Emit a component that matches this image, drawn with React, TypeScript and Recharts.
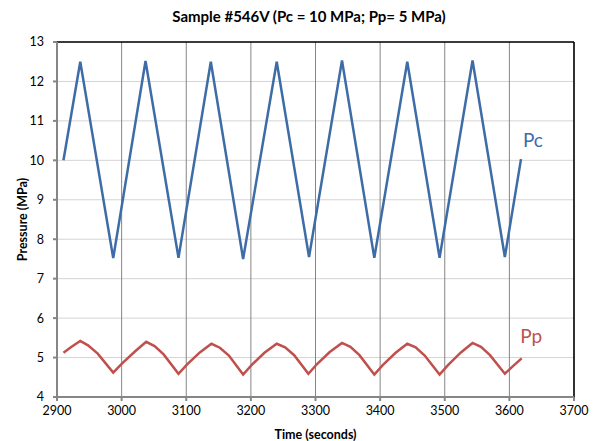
import * as React from 'react';
import {
  LineChart,
  Line,
  XAxis,
  YAxis,
  CartesianGrid,
  ReferenceLine,
  ReferenceDot,
} from 'recharts';

const pcTime = [2910, 2936, 2987, 3037, 3088, 3138, 3188, 3240, 3290, 3341, 3391, 3442, 3492, 3543, 3593, 3618];
const pcValue = [10.0, 12.5, 7.52, 12.52, 7.53, 12.5, 7.5, 12.5, 7.55, 12.53, 7.53, 12.5, 7.53, 12.53, 7.55, 10.03];

const ppTime = [
  2910, 2922, 2936, 2948, 2963, 2987, 3000, 3021, 3038, 3051, 3065, 3088, 3101, 3121, 3139, 3152, 3166,
  3188, 3201, 3221, 3240, 3253, 3267, 3289, 3302, 3322, 3341, 3354, 3368, 3391, 3404, 3424, 3442, 3455,
  3469, 3492, 3505, 3525, 3543, 3556, 3570, 3593, 3606, 3619,
];
const ppValue = [
  5.12, 5.27, 5.42, 5.31, 5.1, 4.62, 4.84, 5.16, 5.4, 5.29, 5.08, 4.59, 4.82, 5.13, 5.35, 5.25, 5.05,
  4.57, 4.81, 5.12, 5.35, 5.26, 5.06, 4.59, 4.83, 5.14, 5.37, 5.27, 5.06, 4.57, 4.81, 5.12, 5.35, 5.26,
  5.05, 4.57, 4.81, 5.13, 5.37, 5.27, 5.06, 4.59, 4.79, 4.98,
];

const xTicks = [2900, 3000, 3100, 3200, 3300, 3400, 3500, 3600, 3700];
const yTicks = [4, 5, 6, 7, 8, 9, 10, 11, 12, 13];

const title = 'Sample #546V (Pc = 10 MPa; Pp= 5 MPa)';

const pcData = pcTime.map((t, i) => ({ t, v: pcValue[i] }));
const ppData = ppTime.map((t, i) => ({ t, v: ppValue[i] }));

const FONT = 'Lato, "Open Sans", sans-serif';
const BLUE = '#3d6ca6';
const RED = '#c0504d';

export default function App() {
  return (
    <div style={{ position: 'absolute', left: 0, top: 0, width: 593, height: 441, background: '#fff', fontFamily: FONT }}>
      <div
        style={{
          position: 'absolute',
          left: 0,
          width: 618,
          top: 7,
          textAlign: 'center',
          fontWeight: 'bold',
          fontSize: 15,
          color: '#000',
        }}
      >
        {title}
      </div>
      <LineChart
        width={593}
        height={441}
        margin={{ top: 42, right: 19, bottom: 0, left: 0 }}
        style={{ fontFamily: FONT }}
      >
        <CartesianGrid vertical={false} stroke="#d4d4d4" strokeWidth={1} />
        <CartesianGrid horizontal={false} stroke="#858585" strokeWidth={1} />
        <XAxis
          dataKey="t"
          type="number"
          domain={[2900, 3700]}
          ticks={xTicks}
          allowDuplicatedCategory={false}
          height={44}
          tickSize={4}
          tickMargin={5}
          stroke="#868686"
          strokeWidth={2}
          tick={{ fill: '#000', fontSize: 12.5 }}
          label={{ value: 'Time (seconds)', position: 'insideBottom', offset: 2, fill: '#000', fontWeight: 'bold', fontSize: 12.5 }}
        />
        <YAxis
          dataKey="v"
          type="number"
          domain={[4, 13]}
          ticks={yTicks}
          width={57}
          tickSize={4}
          tickMargin={9}
          stroke="#868686"
          strokeWidth={2}
          tick={{ fill: '#000', fontSize: 12.5 }}
          label={{ value: 'Pressure (MPa)', position: 'center', angle: -90, dx: -6, fill: '#000', fontWeight: 'bold', fontSize: 12.5 }}
        />
        <ReferenceLine y={13} stroke="#000" strokeWidth={1.5} />
        <ReferenceLine x={3700} stroke="#000" strokeWidth={1.5} />
        <Line data={pcData} dataKey="v" type="linear" stroke={BLUE} strokeWidth={2.5} dot={false} isAnimationActive={false} />
        <Line data={ppData} dataKey="v" type="linear" stroke={RED} strokeWidth={2.5} dot={false} isAnimationActive={false} />
        <ReferenceDot
          x={3621}
          y={10.52}
          r={0}
          fill="none"
          stroke="none"
          ifOverflow="visible"
          label={{ value: 'Pc', position: 'right', offset: 0, fill: BLUE, fontSize: 19 }}
        />
        <ReferenceDot
          x={3617}
          y={5.55}
          r={0}
          fill="none"
          stroke="none"
          ifOverflow="visible"
          label={{ value: 'Pp', position: 'right', offset: 0, fill: RED, fontSize: 19 }}
        />
      </LineChart>
    </div>
  );
}
